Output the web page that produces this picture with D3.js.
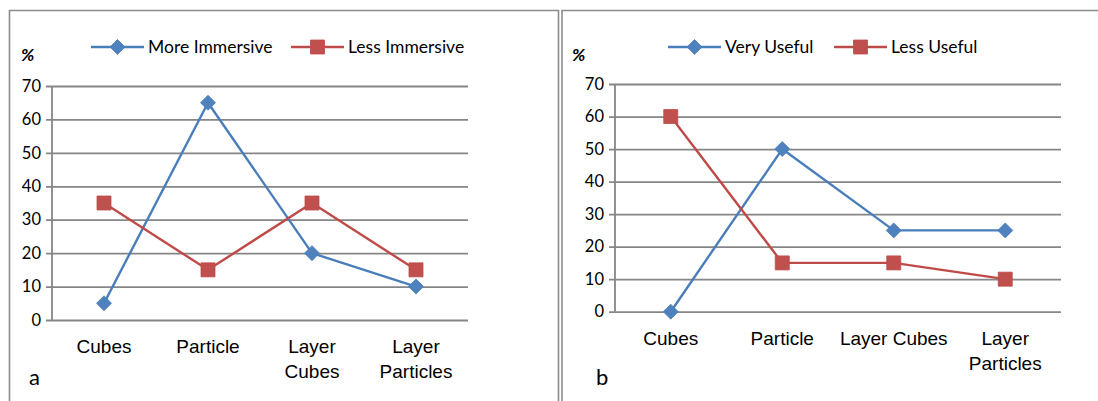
<!DOCTYPE html>
<html><head><meta charset="utf-8">
<script src="https://cdn.jsdelivr.net/npm/d3@7"></script>
<style>
html,body{margin:0;padding:0;background:#fff;}
svg{display:block;font-family:Lato,"Open Sans",sans-serif;}
</style></head>
<body>
<svg id="chart" width="1098" height="401"></svg>
<script>
// ---- data ----
const categoriesA = ["Cubes", "Particle", "Layer Cubes", "Layer Particles"];
const tickLabelsA = [["Cubes"], ["Particle"], ["Layer", "Cubes"], ["Layer", "Particles"]];
const moreImmersive = [5, 65, 20, 10];
const lessImmersive = [35, 15, 35, 15];

const categoriesB = ["Cubes", "Particle", "Layer Cubes", "Layer Particles"];
const tickLabelsB = [["Cubes"], ["Particle"], ["Layer Cubes"], ["Layer", "Particles"]];
const veryUseful = [0, 50, 25, 25];
const lessUseful = [60, 15, 15, 10];

const yTicks = [0, 10, 20, 30, 40, 50, 60, 70];

const BLUE_LINE = "#4a7ebb", BLUE_MARK = "#4f81bd";
const RED_LINE = "#be4b48", RED_MARK = "#c0504d";
const GRID = "#868686";

const svg = d3.select("#chart");

// panel borders
svg.append("path").attr("d", "M9.5,402 V10.5 H558.5 V402")
  .attr("fill", "none").attr("stroke", "#8c8c8c").attr("stroke-width", 1.6);
svg.append("path").attr("d", "M562,402 V10.5 H1100")
  .attr("fill", "none").attr("stroke", "#8c8c8c").attr("stroke-width", 1.6);

function drawChart(cfg) {
  const g = svg.append("g");
  const x = d3.scaleBand().domain(cfg.categories).range([cfg.x0, cfg.x1]);
  const y = d3.scaleLinear().domain([0, 70]).range([cfg.y0, cfg.y1]);

  // gridlines + y axis (ticks extend left of axis)
  const yAxis = d3.axisLeft(y).tickValues(yTicks).tickSize(cfg.x1 - cfg.x0 + 6).tickPadding(5).tickFormat(d3.format("d"));
  const ya = g.append("g").attr("transform", `translate(${cfg.x1},0)`).call(yAxis);
  ya.select(".domain").remove();
  ya.selectAll(".tick line").attr("stroke", GRID).attr("stroke-width", 1.8);
  ya.selectAll(".tick text").attr("font-size", 16.5).attr("fill", "#000")
    .attr("font-family", "Lato, sans-serif");
  g.append("line").attr("x1", cfg.x0).attr("x2", cfg.x0).attr("y1", y(70)).attr("y2", y(0))
    .attr("stroke", GRID).attr("stroke-width", 1.8);

  // x labels
  const xa = g.append("g").attr("transform", `translate(0,${cfg.y0})`)
    .call(d3.axisBottom(x).tickSize(0).tickFormat(""));
  xa.select(".domain").remove();
  xa.selectAll(".tick").each(function(d, i) {
    const t = d3.select(this).append("text").attr("fill", "#000").attr("font-size", 19)
      .attr("text-anchor", "middle").attr("y", cfg.labelY);
    cfg.tickLabels[i].forEach((s, j) => t.append("tspan").attr("x", 0).attr("dy", j === 0 ? 0 : 25).text(s));
  });

  // series
  const line = d3.line().x((d, i) => x(cfg.categories[i]) + x.bandwidth() / 2).y(d => y(d));
  cfg.series.forEach(s => {
    g.append("path").datum(s.values).attr("d", line).attr("fill", "none")
      .attr("stroke", s.line).attr("stroke-width", 2.4).attr("stroke-linejoin", "round");
  });
  cfg.series.forEach(s => {
    g.selectAll(null).data(s.values).join("path")
      .attr("transform", (d, i) => `translate(${x(cfg.categories[i]) + x.bandwidth() / 2},${y(d)})`)
      .attr("d", s.shape === "diamond" ? "M0,-7.5L7.5,0L0,7.5L-7.5,0Z" : "M-7,-7H7V7H-7Z")
      .attr("fill", s.mark).attr("stroke", s.line).attr("stroke-width", 0.8);
  });

  // legend
  cfg.series.forEach(s => {
    const lg = g.append("g").attr("transform", `translate(${s.lx},${cfg.legendY})`);
    lg.append("line").attr("x1", 0).attr("x2", 53).attr("stroke", s.line).attr("stroke-width", 2.4);
    lg.append("path").attr("transform", "translate(26.5,0)")
      .attr("d", s.shape === "diamond" ? "M0,-7.5L7.5,0L0,7.5L-7.5,0Z" : "M-7,-7H7V7H-7Z")
      .attr("fill", s.mark).attr("stroke", s.line).attr("stroke-width", 0.8);
    lg.append("text").attr("x", 57).attr("dy", "0.35em").attr("font-size", 17.5).attr("fill", "#000").text(s.name);
  });

  // % label and panel letter
  g.append("text").attr("x", cfg.pctX).attr("y", 61).attr("font-size", 17.5).attr("font-weight", "bold")
    .attr("font-style", "italic").attr("fill", "#000").text("%");
  g.append("text").attr("x", cfg.letterX).attr("y", 385).attr("font-size", 22).attr("fill", "#000").text(cfg.letter);
}

drawChart({
  categories: categoriesA, tickLabels: tickLabelsA,
  x0: 52, x1: 468, y0: 320, y1: 86, labelY: 33, legendY: 47,
  pctX: 21, letterX: 29, letter: "a",
  series: [
    {name: "More Immersive", values: moreImmersive, line: BLUE_LINE, mark: BLUE_MARK, shape: "diamond", lx: 91},
    {name: "Less Immersive", values: lessImmersive, line: RED_LINE, mark: RED_MARK, shape: "square", lx: 291}
  ]
});
drawChart({
  categories: categoriesB, tickLabels: tickLabelsB,
  x0: 615, x1: 1061, y0: 311.7, y1: 84, labelY: 33, legendY: 47,
  pctX: 572, letterX: 596, letter: "b",
  series: [
    {name: "Very Useful", values: veryUseful, line: BLUE_LINE, mark: BLUE_MARK, shape: "diamond", lx: 668},
    {name: "Less Useful", values: lessUseful, line: RED_LINE, mark: RED_MARK, shape: "square", lx: 834}
  ]
});
</script>
</body></html>
